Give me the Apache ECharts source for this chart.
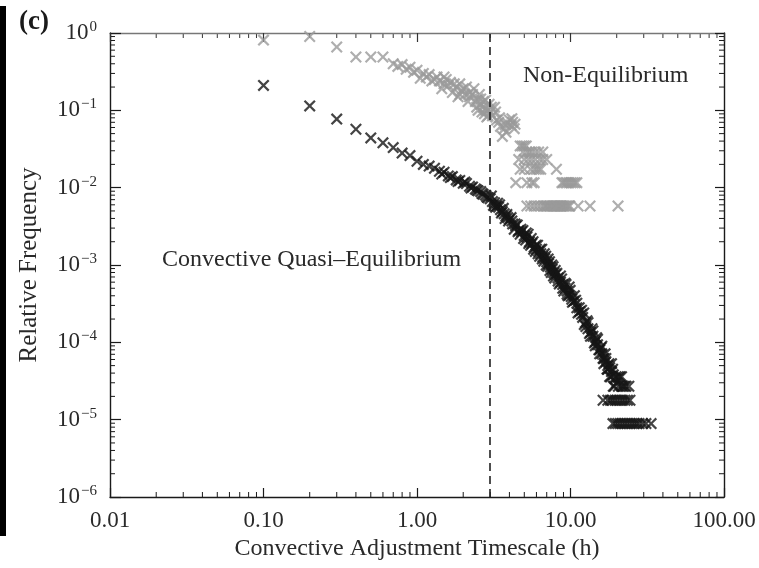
<!DOCTYPE html>
<html>
<head>
<meta charset="utf-8">
<script src="https://cdn.jsdelivr.net/npm/echarts@6/dist/echarts.min.js"></script>
<style>
html, body { margin: 0; padding: 0; background: #fff; }
#main { width: 759px; height: 568px; }
</style>
</head>
<body>
<div id="main"></div>
<script>
// tick labels
var xTickValues = [0.01, 0.1, 1, 10, 100];
var xTickLabels = ['0.01', '0.10', '1.00', '10.00', '100.00'];
var yTickExps = [0, -1, -2, -3, -4, -5, -6];

// black: convective quasi-equilibrium
var blackMain = [
	[0.1,0.21],[0.2,0.114],[0.3,0.077],[0.4,0.057],[0.5,0.044],[0.6,0.038],[0.7,0.033],[0.8,0.028],
	[0.9,0.026],[1.0,0.022],[1.1,0.020],[1.2,0.019],[1.3,0.0178],[1.4,0.0163],[1.5,0.0158],[1.6,0.0142],
	[1.7,0.0139],[1.8,0.0126],[1.9,0.0124],[2.0,0.0114],[2.1,0.0113],[2.2,0.0104],[2.3,0.0102],[2.4,0.0096],
	[2.5,0.0091],[2.6,0.0089],[2.7,0.0082],[2.8,0.0080],[2.9,0.0074],[3.0,0.0072],[3.1,0.0066],[3.2,0.0064],
	[3.3,0.0058],[3.4,0.0056],[3.5,0.0052],[3.6,0.0049],[3.7,0.0046],[3.8,0.0043],[3.9,0.0041],[4.0,0.0039],
	[4.2,0.0034],[4.4,0.0032],[4.6,0.0028],[4.8,0.0027],[5.0,0.0024],[5.2,0.0023],[5.4,0.0020],[5.6,0.0019],
	[5.8,0.0017],[6.0,0.0016],[6.2,0.0015],[6.4,0.0014],[6.6,0.00128],[6.8,0.00121],[7.0,0.0011],[7.2,0.00104],
	[7.4,0.00094],[7.6,0.00088],[7.8,0.00079],[8.0,0.00075],[8.3,0.00068],[8.6,0.0006],[8.9,0.00056],[9.2,0.0005],
	[9.5,0.00046],[9.8,0.00041],[10.1,0.00039],[10.5,0.00034],[11.0,0.00028],[11.5,0.00025],[12.0,0.00021],
	[12.5,0.00018],[13.0,0.00015],[13.5,0.000135],[14.0,0.00012],[14.5,0.000102],[15.0,0.000093],[15.5,0.00008],
	[16.0,0.000071],[16.5,0.000062],[17.0,0.000056],[17.5,0.00005],[18.0,0.000047],[18.5,0.000042],[19.0,0.000038],
	[19.5,0.000034],[20.0,0.00003]
];
var blackSpread = [
	[1.45,0.0150],[1.65,0.0135],[1.85,0.0120],[2.05,0.0118],[2.25,0.0099],[2.45,0.0093],[2.65,0.0084],[2.85,0.0076],
	[3.05,0.0078],[3.25,0.0056],[3.45,0.006],[3.75,0.004],[4.1,0.0041],[4.3,0.0029],[4.5,0.0033],[4.7,0.0025],
	[4.9,0.0028],[5.1,0.0021],[5.3,0.0025],[5.5,0.0018],[5.7,0.002],[5.9,0.0015],[6.1,0.0018],[6.3,0.0013],
	[6.5,0.0016],[6.7,0.00112],[6.9,0.0013],[7.1,0.00096],[7.3,0.0011],[7.5,0.0008],[7.7,0.00095],[7.9,0.00068],
	[8.15,0.00078],[8.45,0.00057],[8.75,0.00066],[9.05,0.00046],[9.35,0.00056],[9.65,0.0004],[9.95,0.00047],
	[10.3,0.00033],[10.8,0.00035],[11.2,0.00024],[11.8,0.00026],[12.3,0.00017],[12.8,0.00019],[13.3,0.00013],
	[13.8,0.00015],[14.3,0.000098],[14.8,0.000115],[15.3,0.00008],[15.8,0.000085],[16.3,0.000062],[16.8,0.000071],
	[17.3,0.000045],[17.8,0.000053],[18.3,0.000036],[18.8,0.000045],[19.3,0.000027],[19.8,0.000036],
	[20.5,0.000027],[21.0,0.000036],[21.5,0.000027],[22.0,0.000027],[23.0,0.000027]
];
var blackSpread2 = [
	[3.15,0.0059],[3.35,0.0063],[3.55,0.0047],[3.65,0.0054],[3.85,0.0045],[3.95,0.0037],[4.15,0.0037],[4.35,0.0034],
	[4.55,0.0027],[4.75,0.0029],[4.95,0.0022],[5.15,0.0026],[5.35,0.0019],[5.55,0.0022],[5.75,0.0016],[5.95,0.0018],
	[6.15,0.0014],[6.35,0.0016],[6.55,0.0012],[6.75,0.0014],[6.95,0.001],[7.15,0.0012],[7.35,0.00085],[7.55,0.001],
	[7.75,0.00072],[7.95,0.00085],[8.3,0.00062],[8.6,0.00072],[8.9,0.0005],[9.2,0.00058],[9.5,0.00042],[9.8,0.00052],
	[10.2,0.00036],[10.6,0.0004],[11.0,0.00032],[11.4,0.00028],[11.8,0.00023],[12.2,0.00024],[12.6,0.00016],
	[13.0,0.00018],[13.5,0.00012],[14.0,0.00014],[14.5,0.00009],[15.0,0.00011],[15.5,0.000071],[16.0,0.000089],
	[16.5,0.000053],[17.0,0.000062],[17.5,0.000045],[18.0,0.000036],[18.5,0.000053],[19.0,0.000027],
	[20.5,0.000036],[21.5,0.000036],[22.5,0.000027],[24.0,0.000027]
];
var blackTail = [
	[16.3,0.0000178],[17.5,0.0000178],[18.2,0.0000178],[18.8,0.0000178],[19.5,0.0000178],[20.2,0.0000178],
	[21.0,0.0000178],[21.8,0.0000178],[22.6,0.0000178],[23.5,0.0000178],[24.4,0.0000178],
	[18.9,0.0000089],[19.6,0.0000089],[20.3,0.0000089],[21.0,0.0000089],[21.8,0.0000089],[22.6,0.0000089],
	[23.4,0.0000089],[24.3,0.0000089],[25.2,0.0000089],[26.1,0.0000089],[27.0,0.0000089],[28.0,0.0000089],
	[29.5,0.0000089],[31.0,0.0000089],[33.5,0.0000089]
];

// gray: non-equilibrium
var grayMain = [
	[0.1,0.81],[0.2,0.90],[0.3,0.66],[0.4,0.49],[0.5,0.49],[0.6,0.49],[0.7,0.40],[0.8,0.39],[0.9,0.36],
	[1.0,0.33],[1.1,0.30],[1.2,0.29],[1.3,0.25],[1.4,0.24],[1.5,0.22],[1.6,0.21],[1.7,0.17],[1.8,0.20],
	[1.9,0.16],[2.0,0.19],[2.1,0.20],[2.2,0.15],[2.3,0.16],[2.4,0.13],[2.5,0.14],[2.6,0.12],[2.7,0.11],
	[2.8,0.135],[2.9,0.10],[3.0,0.095]
];
var grayScatter = [
	[0.75,0.37],[0.85,0.34],[0.95,0.31],[1.05,0.26],[1.15,0.27],[1.25,0.24],[1.35,0.27],[1.45,0.19],[1.5,0.27],
	[1.55,0.25],[1.65,0.23],[1.75,0.22],[1.85,0.15],[1.9,0.22],[1.95,0.18],[2.05,0.16],[2.15,0.13],[2.2,0.17],
	[2.35,0.19],[2.45,0.11],[2.5,0.10],[2.55,0.16],[2.6,0.14],[2.65,0.095],[2.7,0.13],[2.75,0.09],[2.8,0.10],
	[2.85,0.082],[2.9,0.085],[2.95,0.12],[3.05,0.11],[3.1,0.085],[3.2,0.11],[3.25,0.095],[3.3,0.075],[3.4,0.07],
	[3.45,0.08],[3.5,0.062],[3.6,0.046],[3.7,0.058],[3.75,0.065],[3.8,0.052],[3.9,0.068],[4.0,0.075],[4.1,0.064],
	[4.15,0.078],[4.2,0.07],[4.3,0.058],[4.35,0.066]
];
var grayLevels = [
	[4.7,0.0347],[4.85,0.0347],[5.0,0.0347],[5.15,0.0347],
	[4.9,0.0289],[5.2,0.0289],[5.4,0.0289],[5.6,0.0289],[5.9,0.0289],[6.2,0.0289],[6.6,0.0289],
	[4.6,0.0231],[5.0,0.0231],[5.3,0.0231],[5.6,0.0231],[5.9,0.0231],[6.3,0.0231],[6.6,0.0231],[7.0,0.0231],
	[4.7,0.0173],[5.0,0.0173],[5.5,0.0173],[5.8,0.0173],[6.0,0.0173],[6.2,0.0173],[6.4,0.0173],[8.1,0.0173],
	[4.4,0.0116],[5.2,0.0116],[5.6,0.0116],[5.8,0.0116],[8.8,0.0116],[9.0,0.0116],[9.3,0.0116],[9.5,0.0116],
	[9.8,0.0116],[10.1,0.0116],[10.4,0.0116],[10.7,0.0116],[11.0,0.0116],
	[5.2,0.0058],[5.5,0.0058],[5.8,0.0058],[6.1,0.0058],[6.4,0.0058],[6.7,0.0058],[6.85,0.0058],[7.0,0.0058],
	[7.15,0.0058],[7.3,0.0058],[7.45,0.0058],[7.6,0.0058],[7.75,0.0058],[7.9,0.0058],[8.05,0.0058],[8.2,0.0058],
	[8.35,0.0058],[8.5,0.0058],[8.65,0.0058],[8.8,0.0058],[8.95,0.0058],[9.1,0.0058],[9.3,0.0058],[9.5,0.0058],
	[9.7,0.0058],[9.9,0.0058],[11.2,0.0058],[13.4,0.0058],[20.4,0.0058]
];

var crossSymbol = 'path://M0,1.3L1.3,0L5,3.7L8.7,0L10,1.3L6.3,5L10,8.7L8.7,10L5,6.3L1.3,10L0,8.7L3.7,5Z';
var serif = '"Liberation Serif", "DejaVu Serif", serif';

var dom = document.getElementById('main');
var myChart = echarts.init(dom, null, {renderer: 'canvas'});

function xLabel(v) {
	for (var i = 0; i < xTickValues.length; i++) {
		if (Math.abs(v - xTickValues[i]) / xTickValues[i] < 1e-6) return xTickLabels[i];
	}
	return '';
}
function yLabel(v) {
	var e = Math.round(Math.log(v) / Math.LN10);
	if (yTickExps.indexOf(e) < 0) return '';
	return '{b|10}{s|' + (e === 0 ? '0' : '\u2212' + (-e)) + '}';
}

var axisLineStyle = {color: '#1a1a1a', width: 1.4};

option = {
	animation: false,
	backgroundColor: '#fff',
	grid: {left: 110, right: 35, top: 33, bottom: 71, containLabel: false, outerBoundsMode: 'none'},
	xAxis: [{
		type: 'log', min: 0.01, max: 100,
		axisLine: {lineStyle: axisLineStyle},
		axisTick: {inside: true, length: 9, lineStyle: {color: '#1a1a1a', width: 1.2}},
		axisLabel: {formatter: xLabel, fontFamily: serif, fontSize: 23, color: '#2a2a2a', margin: 12,
			showMinLabel: true, showMaxLabel: true},
		splitLine: {show: false},
		name: 'Convective Adjustment Timescale (h)',
		nameLocation: 'middle', nameGap: 40,
		nameTextStyle: {fontFamily: serif, fontSize: 24, color: '#2a2a2a'}
	}, {
		type: 'log', min: 0.01, max: 100, position: 'top',
		axisLine: {lineStyle: {color: '#777', width: 1.4}},
		axisTick: {inside: true, length: 9, lineStyle: {color: '#333', width: 1.2}},
		axisLabel: {show: false},
		splitLine: {show: false}
	}],
	yAxis: [{
		type: 'log', min: 1e-6, max: 1,
		axisLine: {lineStyle: axisLineStyle},
		axisTick: {inside: true, length: 11, lineStyle: {color: '#1a1a1a', width: 1.2}},
		axisLabel: {
			formatter: yLabel, margin: 13, color: '#2a2a2a',
			rich: {
				b: {fontFamily: serif, fontSize: 23, color: '#2a2a2a'},
				s: {fontFamily: serif, fontSize: 15, color: '#2a2a2a', padding: [0, 0, 12, 1]}
			}
		},
		splitLine: {show: false},
		name: 'Relative Frequency',
		nameLocation: 'middle', nameGap: 68,
		nameTextStyle: {fontFamily: serif, fontSize: 25, color: '#2a2a2a'}
	}, {
		type: 'log', min: 1e-6, max: 1, position: 'right',
		axisLine: {lineStyle: axisLineStyle},
		axisTick: {inside: true, length: 9, lineStyle: {color: '#1a1a1a', width: 1.2}},
		axisLabel: {show: false},
		splitLine: {show: false}
	}],
	series: [{
		name: 'quasi-equilibrium',
		type: 'scatter',
		symbol: crossSymbol,
		symbolSize: 12,
		itemStyle: {color: '#151515'},
		data: blackMain.concat(blackSpread, blackSpread2, blackTail),
		markLine: {
			silent: true,
			symbol: 'none',
			label: {show: false},
			lineStyle: {color: '#222', width: 1.6, type: [8, 5]},
			data: [{xAxis: 3}]
		}
	}, {
		name: 'non-equilibrium',
		type: 'scatter',
		symbol: crossSymbol,
		symbolSize: 12,
		itemStyle: {color: '#9a9a9a'},
		data: grayMain.concat(grayScatter, grayLevels)
	}],
	graphic: [
		{type: 'rect', left: 0, top: 6, shape: {width: 6, height: 530}, style: {fill: '#000'}},
		{type: 'text', left: 19, top: 9, style: {text: '(c)', font: 'bold 27px ' + serif, fill: '#1a1a1a'}},
		{type: 'text', left: 523, top: 64, style: {text: 'Non-Equilibrium', font: '24px ' + serif, fill: '#2a2a2a'}},
		{type: 'text', left: 162, top: 248, style: {text: 'Convective Quasi\u2013Equilibrium', font: '24px ' + serif, fill: '#2a2a2a'}}
	]
};
myChart.setOption(option);

// log-spaced minor ticks on all four sides
var minor = [];
var x0 = myChart.convertToPixel({xAxisIndex: 0}, 0.01);
var x1 = myChart.convertToPixel({xAxisIndex: 0}, 100);
var yb = myChart.convertToPixel({yAxisIndex: 0}, 1e-6);
var yt = myChart.convertToPixel({yAxisIndex: 0}, 1);
for (var d = -2; d <= 1; d++) {
	for (var k = 2; k <= 9; k++) {
		var px = myChart.convertToPixel({xAxisIndex: 0}, k * Math.pow(10, d));
		minor.push({type: 'line', shape: {x1: px, y1: yb, x2: px, y2: yb - 5}, style: {stroke: '#1a1a1a', lineWidth: 1}});
		minor.push({type: 'line', shape: {x1: px, y1: yt, x2: px, y2: yt + 5}, style: {stroke: '#333', lineWidth: 1}});
	}
}
for (var d = -6; d <= -1; d++) {
	for (var k = 2; k <= 9; k++) {
		var py = myChart.convertToPixel({yAxisIndex: 0}, k * Math.pow(10, d));
		minor.push({type: 'line', shape: {x1: x0, y1: py, x2: x0 + 5, y2: py}, style: {stroke: '#1a1a1a', lineWidth: 1}});
		minor.push({type: 'line', shape: {x1: x1, y1: py, x2: x1 - 5, y2: py}, style: {stroke: '#1a1a1a', lineWidth: 1}});
	}
}
myChart.setOption({graphic: option.graphic.concat(minor)});
</script>
</body>
</html>
